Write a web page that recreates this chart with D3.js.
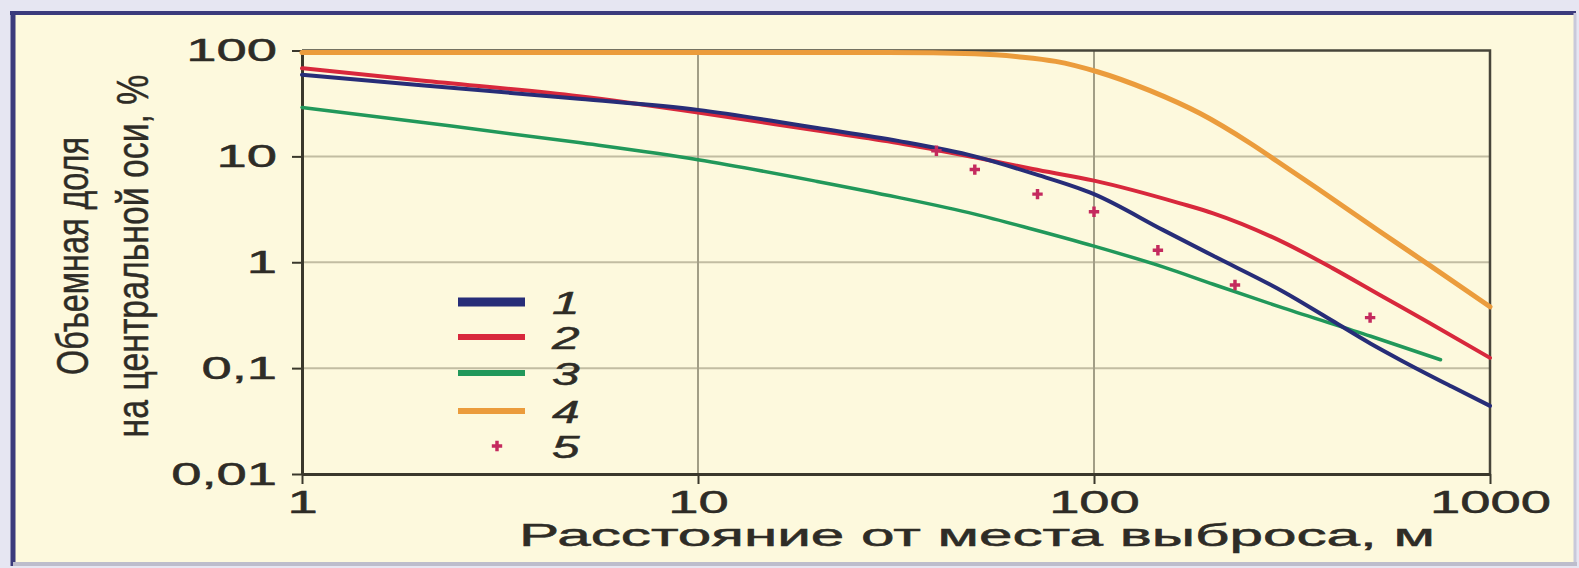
<!DOCTYPE html>
<html>
<head>
<meta charset="utf-8">
<script src="https://cdn.jsdelivr.net/npm/d3@7/dist/d3.min.js"></script>
<style>
  body { margin: 0; background: #e6e6f2; }
  svg text { font-family: "Liberation Sans", Arial, sans-serif; fill: #2e2c26; stroke: #2e2c26; stroke-width: 0.5; }
</style>
</head>
<body>
<script>

// ---- data ----
var xTicks = [1, 10, 100, 1000];
var xTickLabels = ['1', '10', '100', '1000'];
var yTicks = [100, 10, 1, 0.1, 0.01];
var yTickLabels = ['100', '10', '1', '0,1', '0,01'];
var xTitle = 'Расстояние от места выброса, м';
var yTitle = ['Объемная доля', 'на центральной оси, %'];
var legendLabels = ['1', '2', '3', '4', '5'];

var xBlue = [1, 2, 5, 10, 20, 32, 50, 70, 100, 150, 200, 300, 400, 500, 600, 800, 1000];
var yBlue = [59, 47, 35, 27.5, 18.5, 14, 10, 6.9, 4.4, 2.0, 1.15, 0.53, 0.28, 0.17, 0.117, 0.067, 0.044];

var xRed = [1, 2, 5, 10, 20, 32, 50, 70, 100, 165, 200, 300, 400, 527, 700, 1000];
var yRed = [68, 52, 37, 26, 17.5, 13.4, 9.8, 7.6, 5.9, 3.6, 2.9, 1.55, 0.88, 0.49, 0.27, 0.125];

var xGreen = [1, 2, 5, 10, 20, 32, 50, 70, 100, 150, 200, 300, 500, 750];
var yGreen = [29, 21, 13.5, 9.3, 5.8, 4.1, 2.85, 2.05, 1.42, 0.9, 0.62, 0.37, 0.2, 0.12];

var xOrange = [1, 10, 30, 50, 65, 80, 102, 138, 185, 248, 290, 366, 527, 700, 1000];
var yOrange = [96, 96, 95.5, 93, 87, 79, 63, 42, 25.5, 13.3, 9.0, 5.0, 1.95, 0.95, 0.38];

var xPoints = [40, 50, 72, 100, 145, 227, 498];
var yPoints = [11.3, 7.5, 4.4, 3.0, 1.3, 0.61, 0.30];

// ---- layout ----
var svgWidth = 1579, svgHeight = 568;
var plotLeft = 302, plotRight = 1490, plotTop = 50.5, plotBottom = 474;
var textStretch = 1.7;

var colors = ['#272d78', '#d8283c', '#21985a', '#eb9c3c', '#c42a5e'];
var widths = [4, 4, 3.5, 5];

var svg = d3.select('body')
    .append('svg')
    .attr('width', svgWidth)
    .attr('height', svgHeight);

// panel
svg.append('rect').attr('x', 12).attr('y', 12).attr('width', 1563).attr('height', 551).attr('fill', '#fdf9dd');
svg.append('line').attr('x1', 10).attr('x2', 1576).attr('y1', 13).attr('y2', 13).attr('stroke', '#3b3b7c').attr('stroke-width', 4);
svg.append('line').attr('x1', 13).attr('x2', 13).attr('y1', 11).attr('y2', 566).attr('stroke', '#3b3b7c').attr('stroke-width', 5);
svg.append('line').attr('x1', 1575).attr('x2', 1575).attr('y1', 13).attr('y2', 565).attr('stroke', '#c9c9da').attr('stroke-width', 3);
svg.append('line').attr('x1', 13).attr('x2', 1577).attr('y1', 564).attr('y2', 564).attr('stroke', '#bdbdcc').attr('stroke-width', 4);

var xScale = d3.scaleLog().domain([1, 1000]).range([plotLeft, plotRight]);
var yScale = d3.scaleLog().domain([0.01, 100]).range([plotBottom, plotTop]);

// grid
svg.append('g').selectAll('line')
    .data([10, 1, 0.1])
    .enter().append('line')
    .attr('x1', plotLeft).attr('x2', plotRight)
    .attr('y1', function (d) { return yScale(d); })
    .attr('y2', function (d) { return yScale(d); })
    .attr('stroke', '#c2bda2').attr('stroke-width', 2);

svg.append('g').selectAll('line')
    .data([10, 100])
    .enter().append('line')
    .attr('x1', function (d) { return xScale(d); })
    .attr('x2', function (d) { return xScale(d); })
    .attr('y1', plotTop).attr('y2', plotBottom)
    .attr('stroke', '#a29e86').attr('stroke-width', 2);

// top and right frame
svg.append('path')
    .attr('d', 'M' + plotLeft + ',' + plotTop + 'H' + plotRight + 'V' + plotBottom)
    .attr('fill', 'none').attr('stroke', '#47453a').attr('stroke-width', 2.5);

// axes
var yAxis = svg.append('g')
    .attr('transform', 'translate(' + plotLeft + ',0)')
    .call(d3.axisLeft(yScale)
        .tickValues(yTicks)
        .tickFormat(function (d, i) { return yTickLabels[i]; })
        .tickSize(10).tickSizeOuter(0));

var xAxis = svg.append('g')
    .attr('transform', 'translate(0,' + plotBottom + ')')
    .call(d3.axisBottom(xScale)
        .tickValues(xTicks)
        .tickFormat(function (d, i) { return xTickLabels[i]; })
        .tickSize(10).tickSizeOuter(0).tickPadding(6));

[yAxis, xAxis].forEach(function (ax) {
    ax.attr('color', '#3a382c').attr('font-size', 32).attr('font-family', null);
    ax.select('.domain').attr('stroke-width', 3);
    ax.selectAll('.tick line').attr('stroke-width', 2);
});
yAxis.selectAll('.tick text')
    .attr('x', 0)
    .attr('transform', 'translate(-25,0) scale(' + textStretch + ',1)');
xAxis.selectAll('.tick text')
    .attr('transform', 'scale(' + textStretch + ',1)');

// titles
svg.append('text')
    .attr('x', 977)
    .attr('y', 546)
    .attr('text-anchor', 'middle')
    .attr('font-size', 31)
    .attr('textLength', 916)
    .attr('lengthAdjust', 'spacingAndGlyphs')
    .text(xTitle);

// y title: squeeze along the text with a scale, so the box stays true
var yTitleLen = [238, 363];
svg.selectAll('.ytitle')
    .data(yTitle)
    .enter().append('text')
    .attr('class', 'ytitle')
    .attr('text-anchor', 'middle')
    .attr('font-size', 44)
    .text(function (d) { return d; })
    .attr('transform', function (d, i) {
        var w = this.getComputedTextLength();
        return 'translate(' + (88 + i * 60) + ',256) rotate(-90) scale(' + (yTitleLen[i] / w) + ',1)';
    });

// curves
var series = [
    { xs: xBlue, ys: yBlue },
    { xs: xRed, ys: yRed },
    { xs: xGreen, ys: yGreen },
    { xs: xOrange, ys: yOrange }
];

var line = d3.line()
    .x(function (d) { return xScale(d[0]); })
    .y(function (d) { return yScale(d[1]); })
    .curve(d3.curveMonotoneX);

// orange and green first, then red and blue on top
[3, 2, 1, 0].forEach(function (k) {
    var s = series[k];
    svg.append('path')
        .datum(d3.zip(s.xs, s.ys))
        .attr('d', line)
        .attr('fill', 'none')
        .attr('stroke', colors[k])
        .attr('stroke-width', widths[k])
        .attr('stroke-linecap', 'round')
        .attr('stroke-linejoin', 'round');
});

var cross = d3.symbol().type(d3.symbolCross).size(60);
svg.append('g').selectAll('path')
    .data(d3.zip(xPoints, yPoints))
    .enter().append('path')
    .attr('d', cross)
    .attr('transform', function (d) { return 'translate(' + xScale(d[0]) + ',' + yScale(d[1]) + ')'; })
    .attr('fill', colors[4]);

// legend
var legendY = [302, 337, 373, 411, 446];
var legendW = [9, 6, 6, 6];
var legend = svg.append('g');
legendLabels.forEach(function (lab, i) {
    if (i < 4) {
        legend.append('line')
            .attr('x1', 458).attr('x2', 525)
            .attr('y1', legendY[i]).attr('y2', legendY[i])
            .attr('stroke', colors[i]).attr('stroke-width', legendW[i]);
    } else {
        legend.append('path')
            .attr('d', cross)
            .attr('transform', 'translate(497,' + legendY[i] + ')')
            .attr('fill', colors[4]);
    }
    legend.append('text')
        .attr('transform', 'translate(552,' + (legendY[i] + 12) + ') scale(1.55,1)')
        .attr('font-size', 32)
        .attr('font-style', 'italic')
        .text(lab);
});

</script>
</body>
</html>
